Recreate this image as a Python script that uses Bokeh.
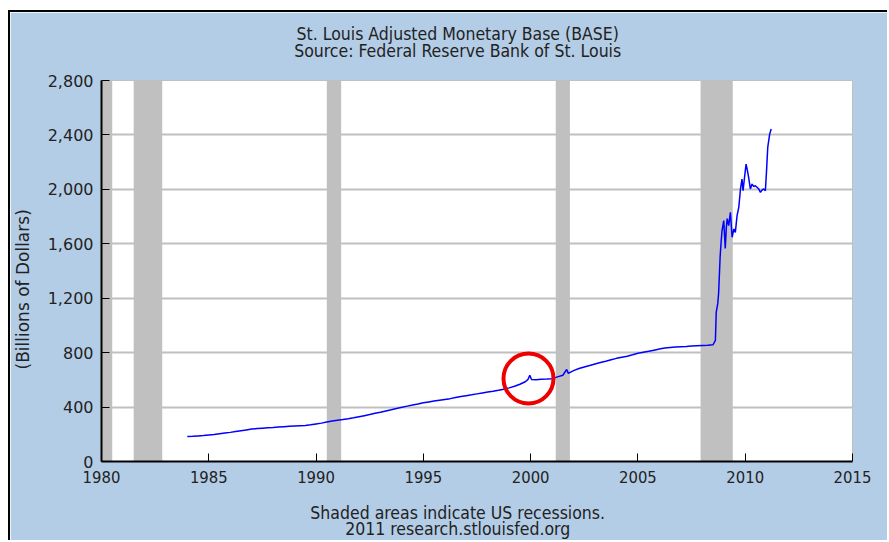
from bokeh.plotting import figure
from bokeh.models import Range1d, FixedTicker, NumeralTickFormatter, LinearAxis
from bokeh.embed import file_html
from bokeh.resources import INLINE

# ---------------- data ----------------
years = [
    1984.00, 1984.25, 1984.50, 1984.75,
    1985.00, 1985.25, 1985.50, 1985.75,
    1986.00, 1986.25, 1986.50, 1986.75,
    1987.00, 1987.25, 1987.50, 1987.75,
    1988.00, 1988.25, 1988.50, 1988.75,
    1989.00, 1989.25, 1989.50, 1989.75,
    1990.00, 1990.25, 1990.50, 1990.75,
    1991.00, 1991.25, 1991.50, 1991.75,
    1992.00, 1992.25, 1992.50, 1992.75,
    1993.00, 1993.25, 1993.50, 1993.75,
    1994.00, 1994.25, 1994.50, 1994.75,
    1995.00, 1995.25, 1995.50, 1995.75,
    1996.00, 1996.25, 1996.50, 1996.75,
    1997.00, 1997.25, 1997.50, 1997.75,
    1998.00, 1998.25, 1998.50, 1998.75,
    1999.00, 1999.25, 1999.50, 1999.75, 1999.88, 1999.96, 2000.04,
    2000.25, 2000.50, 2000.75,
    2001.00, 2001.25, 2001.50, 2001.68, 2001.75,
    2002.00, 2002.25, 2002.50, 2002.75,
    2003.00, 2003.25, 2003.50, 2003.75,
    2004.00, 2004.25, 2004.50, 2004.75,
    2005.00, 2005.25, 2005.50, 2005.75,
    2006.00, 2006.25, 2006.50, 2006.75,
    2007.00, 2007.25, 2007.50, 2007.75,
    2008.00, 2008.25, 2008.50,
    2008.61, 2008.65, 2008.72, 2008.76, 2008.83, 2008.88, 2008.92,
    2009.00, 2009.07, 2009.12, 2009.16, 2009.23, 2009.31, 2009.39,
    2009.47, 2009.54, 2009.62, 2009.70, 2009.78, 2009.85, 2009.90,
    2009.96, 2010.04, 2010.09, 2010.16, 2010.24, 2010.32, 2010.40,
    2010.47, 2010.55, 2010.63, 2010.71, 2010.78, 2010.86, 2010.94,
    2010.99, 2011.05, 2011.14, 2011.21,
]
base_values = [
    183, 185, 188, 191,
    195, 199, 204, 209,
    214, 220, 226, 232,
    238, 242, 245, 248,
    250, 253, 256, 259,
    261, 263, 265, 270,
    276, 282, 290, 297,
    303, 308, 314, 321,
    329, 337, 345, 354,
    362, 371, 380, 390,
    398, 407, 415, 423,
    432, 438, 444, 450,
    456, 462, 470, 478,
    484, 490, 497, 504,
    510, 516, 523, 531,
    541, 553, 568, 586, 604, 634, 603,
    600, 604, 606,
    609, 622, 634, 676, 648,
    668, 683, 695, 705,
    717, 727, 737, 748,
    758, 766, 774, 784,
    795, 803, 810, 818,
    826, 834, 838, 842,
    844, 846, 849, 851,
    853, 855, 858,
    890, 1098, 1160, 1235, 1501, 1620, 1697,
    1770, 1565, 1720, 1785, 1734, 1831, 1648,
    1709, 1684, 1807, 1868, 2003, 2076, 1990,
    2076, 2186, 2149, 2088, 2003, 2039, 2020,
    2027, 2015, 2003, 1978, 1995, 2003, 1990,
    2125, 2308, 2406, 2443,
]

recession_start = [1980.00, 1981.50, 1990.50, 2001.17, 2007.92]
recession_end = [1980.50, 1982.83, 1991.17, 2001.83, 2009.42]

highlight_x = [1999.90]
highlight_y = [610]

x_ticks = [1980, 1985, 1990, 1995, 2000, 2005, 2010, 2015]
y_ticks = [0, 400, 800, 1200, 1600, 2000, 2400, 2800]

title_lines = ["St. Louis Adjusted Monetary Base (BASE)",
               "Source: Federal Reserve Bank of St. Louis"]
footer_lines = ["Shaded areas indicate US recessions.",
                "2011 research.stlouisfed.org"]
y_label = "(Billions of Dollars)"

# ---------------- styling / layout ----------------
BG = "#b4cde6"
PAGE_BG = "#e2eaf5"
GRID = "#c0c0c0"
TEXT = "#222222"
TITLE_FONT = "DejaVu Sans Condensed, DejaVu Sans"
TICK_FONT = "DejaVu Sans"
TEXT_CENTER_X = 1996.6     # horizontal centre of the header / footer texts
Y_LABEL_CENTER = 1265      # vertical centre of the y-axis caption

p = figure(
    width=879, height=530,
    x_range=Range1d(x_ticks[0], x_ticks[-1]),
    y_range=Range1d(y_ticks[0], y_ticks[-1]),
    output_backend="svg", toolbar_location=None,
    min_border_left=91, min_border_right=37,
    min_border_top=68, min_border_bottom=80,
    background_fill_color="white", border_fill_color=BG,
)
p.styles = {"margin-left": "8px", "margin-top": "10px",
            "border-top": "2px solid #000", "border-left": "2px solid #000"}
p.title.text = ""

# grid
p.xgrid.visible = False
p.ygrid.ticker = FixedTicker(ticks=y_ticks)
p.ygrid.grid_line_color = GRID
p.ygrid.grid_line_width = 2
p.outline_line_color = GRID
p.outline_line_width = 1

# recession bands
p.quad(left=recession_start, right=recession_end,
       bottom=y_ticks[0], top=y_ticks[-1],
       fill_color="#c0c0c0", line_color=None)

# series
p.line(years, base_values, line_color="#0000ff", line_width=1.5)

# highlight circle
p.scatter(highlight_x, highlight_y, marker="circle", size=50,
          fill_alpha=0, line_color="#ee0000", line_width=4)

# main axes
p.xaxis.ticker = FixedTicker(ticks=x_ticks)
p.yaxis.ticker = FixedTicker(ticks=y_ticks)
p.yaxis.formatter = NumeralTickFormatter(format="0,0")
for ax in (p.xaxis[0], p.yaxis[0]):
    ax.axis_line_color = "black"
    ax.axis_line_width = 2
    ax.major_tick_in = 8
    ax.major_tick_out = 0
    ax.major_tick_line_color = "black"
    ax.major_tick_line_width = 1
    ax.minor_tick_line_color = None
    ax.major_label_text_color = TEXT
p.yaxis.major_label_standoff = 8
p.xaxis.major_label_standoff = 9
p.yaxis.major_label_text_font = TICK_FONT
p.yaxis.major_label_text_font_size = "16px"
p.xaxis.major_label_text_font = TITLE_FONT
p.xaxis.major_label_text_font_size = "16.5px"


def text_axis(pos, text, font, size, standoff, **kw):
    """A bare axis carrying one label: used for header, footer and caption."""
    return LinearAxis(
        ticker=FixedTicker(ticks=[pos]),
        major_label_overrides={pos: text},
        axis_line_color=None, major_tick_line_color=None,
        minor_tick_line_color=None, major_tick_in=0, major_tick_out=0,
        major_label_standoff=standoff, major_label_text_font=font,
        major_label_text_font_size=size, major_label_text_color=TEXT,
        **kw)


p.add_layout(text_axis(TEXT_CENTER_X, "\n".join(title_lines), TITLE_FONT,
                       "17.5px", 20, major_label_text_line_height=0.84), "above")
p.add_layout(text_axis(TEXT_CENTER_X, "\n".join(footer_lines), TITLE_FONT,
                       "17.5px", 17, major_label_text_line_height=0.84), "below")
p.add_layout(text_axis(Y_LABEL_CENTER, y_label, TICK_FONT, "17px", 11,
                       major_label_orientation="vertical"), "left")

html = file_html(p, INLINE)
html = html.replace(
    "<body>",
    '<body style="margin:0;overflow:hidden;background-color:%s;">' % PAGE_BG, 1)
open("out.html", "w").write(html)
